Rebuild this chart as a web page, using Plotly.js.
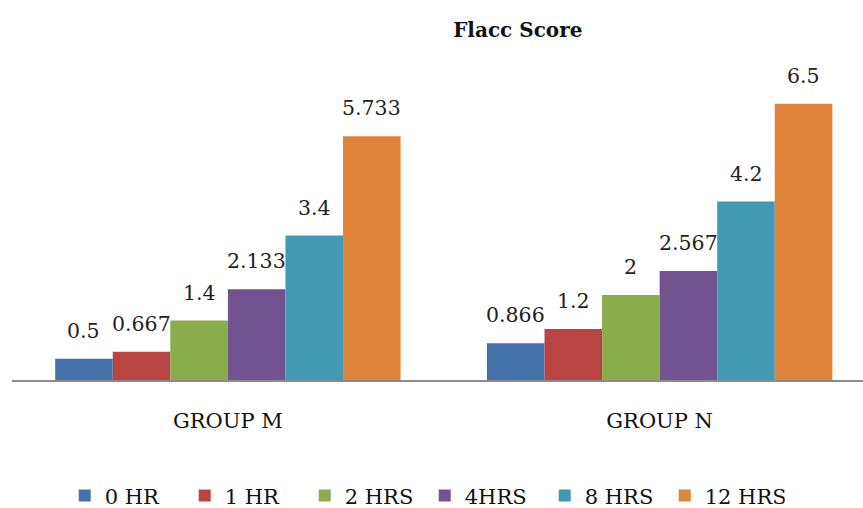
<!DOCTYPE html>
<html>
<head>
<meta charset="utf-8">
<script src="https://cdn.plot.ly/plotly-3.0.1.min.js"></script>
<style>html,body{margin:0;padding:0;background:#fff;}#chart{width:863px;height:508px;}</style>
</head>
<body>
<div id="chart"></div>
<script>
const categories = ["GROUP M", "GROUP N"];
const seriesNames = ["0 HR", "1 HR", "2 HRS", "4HRS", "8 HRS", "12 HRS"];
const hr0 = [0.5, 0.866];
const hr1 = [0.667, 1.2];
const hr2 = [1.4, 2];
const hr4 = [2.133, 2.567];
const hr8 = [3.4, 4.2];
const hr12 = [5.733, 6.5];
const seriesValues = [hr0, hr1, hr2, hr4, hr8, hr12];
const colors = ["#4471aa", "#b94444", "#8bac4d", "#71548f", "#4199b3", "#e0843b"];
const serif = "DejaVu Serif";

const traces = seriesNames.map((name, i) => ({
  type: "bar",
  name: name,
  x: categories,
  y: seriesValues[i],
  marker: {color: colors[i], line: {width: 0}},
  hoverinfo: "x+y+name"
}));

// value labels placed at each bar's data coordinates
const nSeries = seriesNames.length;
const barPx = 432 * 0.8 / nSeries;
const annotations = [];
seriesValues.forEach((vals, i) => {
  vals.forEach((v, j) => {
    annotations.push({
      x: categories[j], y: v, xref: "x", yref: "y",
      text: String(v), showarrow: false,
      xanchor: "center", yanchor: "bottom",
      xshift: (i - (nSeries - 1) / 2) * barPx, yshift: 14,
      font: {family: serif, size: 20.5, color: "#222"}
    });
  });
});

const layout = {
  width: 863, height: 508,
  margin: {l: 12, r: 0, t: 40, b: 128},
  paper_bgcolor: "#fff", plot_bgcolor: "#fff",
  font: {family: serif},
  title: {text: "<b>Flacc Score</b>", font: {family: serif, size: 20, color: "#111"}, x: 0.6, xanchor: "center", y: 0.94, yanchor: "middle"},
  barmode: "group",
  bargap: 0.2,
  bargroupgap: 0,
  xaxis: {
    type: "category",
    range: [-0.5, 1.471],
    showline: true, linecolor: "#8c8c8c", linewidth: 1.5,
    ticks: "", showgrid: false, zeroline: false,
    tickfont: {family: serif, size: 21, color: "#111"},
    ticklabelstandoff: 21
  },
  yaxis: {range: [0, 8], visible: false, showgrid: false, zeroline: false},
  annotations: annotations,
  showlegend: true,
  legend: {
    orientation: "h", xref: "container", yref: "container",
    x: 0.075, xanchor: "left", y: 0.024, yanchor: "middle",
    font: {family: serif, size: 21, color: "#111"},
    itemwidth: 30, tracegroupgap: 0,
    entrywidth: 75, entrywidthmode: "pixels"
  }
};

Plotly.newPlot("chart", traces, layout, {displayModeBar: false, staticPlot: true});
</script>
</body>
</html>
